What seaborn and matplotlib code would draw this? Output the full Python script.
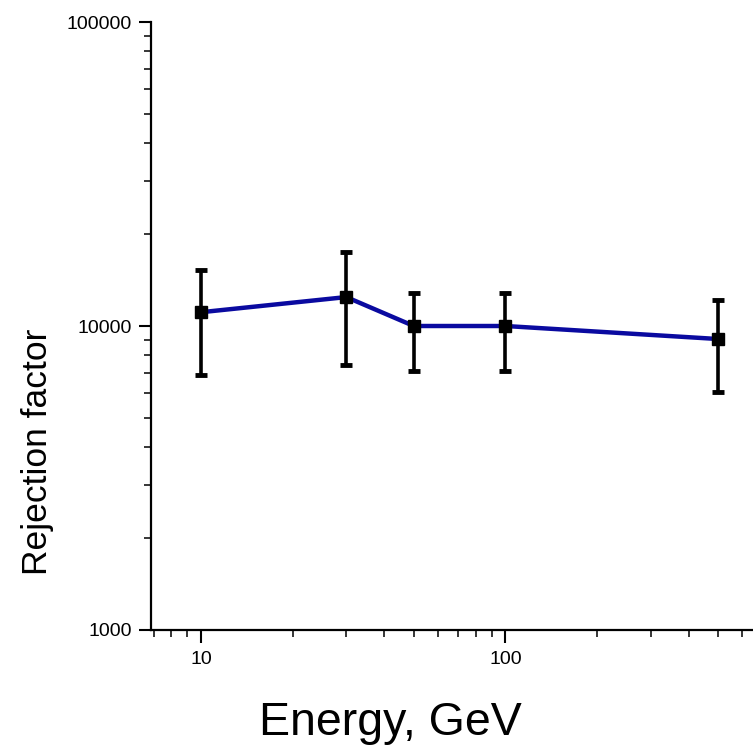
import matplotlib
matplotlib.use("Agg")
import matplotlib.pyplot as plt
import matplotlib.ticker as mticker
import seaborn as sns
import pandas as pd
import numpy as np

energy = [10, 30, 50, 100, 500]
rejection = [11100, 12450, 10000, 10000, 9060]
err_low = [6900, 7450, 7110, 7110, 6070]
err_high = [15280, 17500, 12840, 12840, 12170]

sns.set_theme(style="ticks")
plt.rcParams['font.family'] = ['Liberation Sans', 'DejaVu Sans']

df = pd.DataFrame({"Energy": energy, "Rejection": rejection})

fig = plt.figure(figsize=(7.53, 7.46), dpi=100)
ax = fig.add_axes([0.2005, 0.1555, 0.7995, 0.815])

yerr = np.array([np.array(rejection) - np.array(err_low),
                 np.array(err_high) - np.array(rejection)])
ax.errorbar(energy, rejection, yerr=yerr, fmt='none', ecolor='black',
            elinewidth=2.6, capsize=4.5, capthick=3.5, zorder=2)
sns.lineplot(data=df, x="Energy", y="Rejection", ax=ax, color='#0a0aa0',
             linewidth=3.2, zorder=3)
ax.plot(energy, rejection, linestyle='none', marker='s', markersize=8,
        color='black', zorder=4)

ax.set_xscale('log')
ax.set_yscale('log')
ax.set_xlim(6.85, 650)
ax.set_ylim(1000, 100000)

ax.xaxis.set_major_locator(mticker.FixedLocator([10, 100]))
ax.xaxis.set_major_formatter(mticker.FixedFormatter(["10", "100"]))
ax.yaxis.set_major_locator(mticker.FixedLocator([1000, 10000, 100000]))
ax.yaxis.set_major_formatter(mticker.FixedFormatter(["1000", "10000", "100000"]))
ax.xaxis.set_minor_locator(mticker.LogLocator(base=10, subs=np.arange(2, 10)))
ax.yaxis.set_minor_locator(mticker.LogLocator(base=10, subs=np.arange(2, 10)))
ax.xaxis.set_minor_formatter(mticker.NullFormatter())
ax.yaxis.set_minor_formatter(mticker.NullFormatter())

ax.tick_params(axis='both', which='major', length=9, width=1.5,
               colors='black', direction='out', labelsize=14)
ax.tick_params(axis='x', which='major', pad=6)
ax.tick_params(axis='y', which='major', pad=5)
ax.tick_params(axis='both', which='minor', length=5, width=1.3, direction='out')

for s in ['top', 'right']:
    ax.spines[s].set_visible(False)
for s in ['left', 'bottom']:
    ax.spines[s].set_linewidth(1.6)
    ax.spines[s].set_color('black')

ax.set_xlabel("Energy, GeV", fontsize=33.5, color='black', va='baseline')
ax.set_ylabel("Rejection factor", fontsize=25.5, color='black', va='baseline')
ax.xaxis.set_label_coords(0.398, -0.1727, transform=ax.transAxes)
ax.yaxis.set_label_coords(-0.1728, 0.293, transform=ax.transAxes)

fig.savefig("out.png", dpi=100)
